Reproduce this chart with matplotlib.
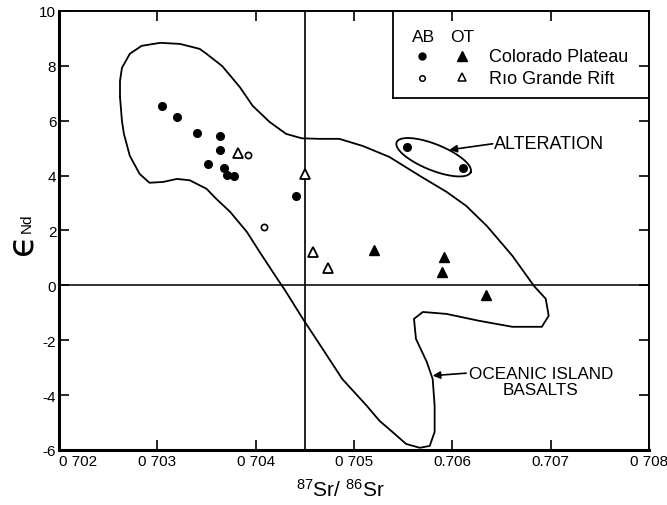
import numpy as np
import matplotlib
matplotlib.use('Agg')
from matplotlib import pyplot as plt

plt.rcParams['font.family'] = ['Liberation Sans', 'DejaVu Sans']
plt.rcParams['axes.unicode_minus'] = False
plt.rcParams['mathtext.fontset'] = 'custom'
plt.rcParams['mathtext.rm'] = 'Liberation Sans'
plt.rcParams['mathtext.it'] = 'Liberation Sans:italic'

# Colorado Plateau, alkali basalts (filled circles)
cp_ab_x = [0.70305, 0.70320, 0.70340, 0.70364, 0.70364, 0.70352, 0.70368,
           0.70371, 0.70378, 0.70441, 0.70554, 0.70611]
cp_ab_y = [6.53, 6.12, 5.55, 5.44, 4.93, 4.44, 4.28, 4.03, 4.00, 3.24, 5.05, 4.27]
# Colorado Plateau, olivine tholeiites (filled triangles)
cp_ot_x = [0.70520, 0.70592, 0.70589, 0.70634]
cp_ot_y = [1.30, 1.03, 0.50, -0.35]
# Rio Grande Rift, alkali basalts (open circles)
rgr_ab_x = [0.70392, 0.70408]
rgr_ab_y = [4.76, 2.14]
# Rio Grande Rift, olivine tholeiites (open triangles)
rgr_ot_x = [0.70382, 0.70450, 0.70458, 0.70474]
rgr_ot_y = [4.82, 4.06, 1.23, 0.63]

# oceanic island basalt field outline
oib_x = [0.70262, 0.70262, 0.70264, 0.70272, 0.70284, 0.70303, 0.70323, 0.70343,
         0.70350, 0.70366, 0.70384, 0.70397, 0.70414, 0.70431, 0.70447, 0.70465,
         0.70485, 0.70509, 0.70536, 0.70567, 0.70594, 0.70614, 0.70635, 0.70661,
         0.70683, 0.70695, 0.70698, 0.70691, 0.70661, 0.70627, 0.70594, 0.70570,
         0.70561, 0.70563, 0.70574, 0.70580, 0.70582, 0.70582, 0.70577, 0.70567,
         0.70553, 0.70539, 0.70526, 0.70513, 0.70488, 0.70468, 0.70448, 0.70429,
         0.70424, 0.70404, 0.70391, 0.70374, 0.70360, 0.70350, 0.70333, 0.70320,
         0.70306, 0.70292, 0.70282, 0.70272, 0.70266, 0.70264, 0.70262]
oib_y = [6.87, 7.45, 7.93, 8.44, 8.73, 8.84, 8.80, 8.62,
         8.44, 7.99, 7.22, 6.54, 5.96, 5.52, 5.36, 5.34,
         5.34, 5.08, 4.68, 3.99, 3.41, 2.90, 2.17, 1.08,
         -0.02, -0.49, -1.11, -1.51, -1.51, -1.29, -1.04, -0.97,
         -1.22, -1.95, -2.79, -3.41, -4.39, -5.34, -5.85, -5.92,
         -5.78, -5.34, -4.94, -4.39, -3.41, -2.31, -1.22, -0.13,
         0.13, 1.22, 1.95, 2.68, 3.15, 3.52, 3.83, 3.88,
         3.77, 3.74, 4.06, 4.72, 5.52, 5.99, 6.87]

# alteration ellipse: centre in data units, axes in pixels
alt_cx, alt_cy = 0.70581, 4.67
alt_a, alt_b, alt_ang = 40, 13, -22

xticks = [0.702, 0.703, 0.704, 0.705, 0.706, 0.707, 0.708]
xticklabels = ['0 702', '0 703', '0 704', '0 705', '0.706', '0.707', '0 708']
yticks = [-6, -4, -2, 0, 2, 4, 6, 8, 10]
yticklabels = ['-6', '-4', '-2', '0', '2', '4', '6', '8', '10']

fig = plt.figure(figsize=(6.67, 5.06), dpi=100)
ax = fig.add_axes([0.0885, 0.1087, 0.8845, 0.8676])
ax.set_xlim(0.702, 0.708)
ax.set_ylim(-6, 10)

ax.axhline(0, color='#222222', lw=1.3, zorder=1)
ax.axvline(0.7045, color='#111111', lw=1.3, zorder=1)

ax.plot(oib_x, oib_y, color='k', lw=1.3, solid_joinstyle='round', zorder=2)

t = np.linspace(0, 2 * np.pi, 200)
th = np.radians(alt_ang)
u = alt_a * np.cos(t)
v = alt_b * np.sin(t)
ex = alt_cx + (u * np.cos(th) - v * np.sin(th)) * 0.001 / 98.5
ey = alt_cy + (u * np.sin(th) + v * np.cos(th)) / 27.44
ax.plot(ex, ey, color='k', lw=1.3, zorder=2)

ax.plot(cp_ab_x, cp_ab_y, 'o', ms=5.5, color='k', zorder=3)
ax.plot(cp_ot_x, cp_ot_y, '^', ms=7.5, color='k', zorder=3)
ax.plot(rgr_ab_x, rgr_ab_y, 'o', ms=4.5, mfc='white', mec='k', mew=1.2, zorder=3)
ax.plot(rgr_ot_x, rgr_ot_y, '^', ms=7, mfc='white', mec='k', mew=1.3, zorder=3)

# annotations
arrow = dict(arrowstyle='-|>', color='k', lw=1.2, mutation_scale=11,
             shrinkA=0, shrinkB=0)
ax.annotate('', xy=(0.70597, 4.94), xytext=(0.70641, 5.16), arrowprops=arrow)
ax.text(0.70642, 5.16, 'ALTERATION', fontsize=13, va='center', ha='left')
ax.annotate('', xy=(0.70580, -3.29), xytext=(0.70614, -3.20), arrowprops=arrow)
ax.text(0.70690, -3.50, 'OCEANIC ISLAND\nBASALTS', fontsize=12.3,
        va='center', ha='center', multialignment='center', linespacing=1.15)

# legend box
ax.plot([0.566, 0.566], [0.802, 1.0], color='k', lw=1.3, transform=ax.transAxes,
        clip_on=False)
ax.plot([0.566, 1.0], [0.802, 0.802], color='k', lw=1.3, transform=ax.transAxes,
        clip_on=False)
ax.text(0.617, 0.943, 'AB', fontsize=12.5, ha='center', va='center',
        transform=ax.transAxes)
ax.text(0.683, 0.943, 'OT', fontsize=12.5, ha='center', va='center',
        transform=ax.transAxes)
ax.plot([0.615], [0.897], 'o', ms=5, color='k', transform=ax.transAxes)
ax.plot([0.683], [0.897], '^', ms=7, color='k', transform=ax.transAxes)
ax.plot([0.615], [0.847], 'o', ms=4, mfc='white', mec='k', mew=1.1,
        transform=ax.transAxes)
ax.plot([0.683], [0.849], '^', ms=6, mfc='white', mec='k', mew=1.1,
        transform=ax.transAxes)
ax.text(0.729, 0.897, 'Colorado Plateau', fontsize=13, va='center',
        transform=ax.transAxes)
ax.text(0.729, 0.847, 'Rıo Grande Rift', fontsize=13, va='center',
        transform=ax.transAxes)

ax.set_xticks(xticks)
ax.set_xticklabels(xticklabels)
ax.get_xticklabels()[0].set_ha('left')
ax.set_yticks(yticks)
ax.set_yticklabels(yticklabels)
ax.tick_params(direction='in', length=7, width=1.2, top=True, right=True,
               labelsize=11, pad=3, colors='k')
ax.tick_params(axis='y', pad=2)

for side in ['left', 'bottom']:
    ax.spines[side].set_linewidth(2.2)
for side in ['top', 'right']:
    ax.spines[side].set_linewidth(1.4)

# y label: big lunate epsilon with Nd subscript, rotated
fig.text(21 / 667, 1 - 244 / 506, '\u03f5', family='DejaVu Sans', fontsize=26,
         rotation=90, ha='center', va='center')
fig.text(27 / 667, 1 - 223 / 506, 'Nd', fontsize=11, rotation=90,
         ha='center', va='center')
fig.text(0.51, 0.032, r'$^{87}$Sr/ $^{86}$Sr', fontsize=15, ha='center', va='center')

fig.savefig('out.png', dpi=100)
